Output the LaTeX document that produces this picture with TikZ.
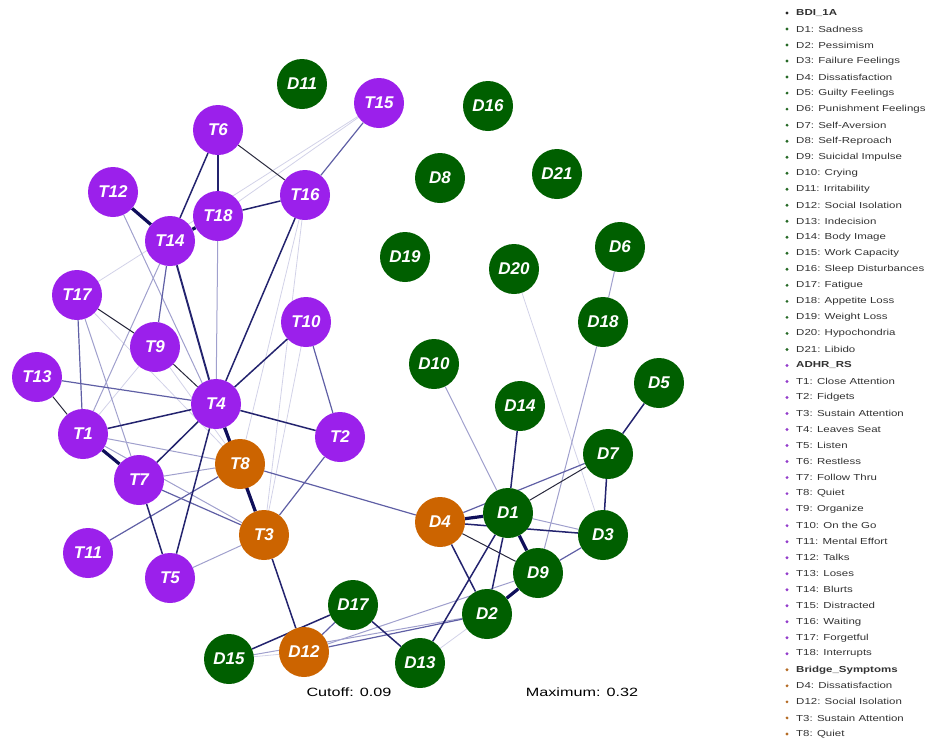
\documentclass[tikz,border=0pt]{standalone}
\usepackage{fontspec}
\setmainfont{Liberation Sans}
\usetikzlibrary{backgrounds}
\definecolor{tpurp}{RGB}{155,32,235}
\definecolor{dgreen}{RGB}{0,95,0}
\definecolor{borange}{RGB}{204,100,0}
\definecolor{c1}{RGB}{210,210,232}
\definecolor{c2}{RGB}{160,160,205}
\definecolor{c3}{RGB}{95,95,165}
\definecolor{c4}{RGB}{35,35,110}
\definecolor{c5}{RGB}{15,15,90}
\definecolor{ck}{RGB}{40,40,60}
\definecolor{legtxt}{RGB}{50,50,50}
\tikzset{
  nd/.style={circle,minimum size=50pt,inner sep=0pt,text=white,font=\fontsize{17}{17}\selectfont\bfseries\itshape},
  tn/.style={nd,fill=tpurp},
  dn/.style={nd,fill=dgreen},
  bn/.style={nd,fill=borange},
  e1/.style={draw=c1,line width=0.8pt},
  e2/.style={draw=c2,line width=1pt},
  e3/.style={draw=c3,line width=1.2pt},
  e4/.style={draw=c4,line width=1.5pt},
  e5/.style={draw=c5,line width=3.2pt},
  ek/.style={draw=ck,line width=1pt},
  leg/.style={anchor=west,inner sep=0pt,text=legtxt,font=\fontsize{8.7}{8.7}\selectfont},
  legh/.style={leg,font=\fontsize{8.7}{8.7}\selectfont\bfseries},
  bul/.style={circle,inner sep=0pt,minimum size=3.2pt},
  captxt/.style={inner sep=0pt,text=black,font=\fontsize{12}{12}\selectfont}
}
\begin{document}
\begin{tikzpicture}[x=1pt,y=-1pt]
\useasboundingbox (0,0) rectangle (929,740);
% nodes
\node[dn] (D11) at (302,84) {D11};
\node[tn] (T15) at (379,103) {T15};
\node[dn] (D16) at (488,106) {D16};
\node[tn] (T6) at (218,130) {T6};
\node[dn] (D8) at (440,178) {D8};
\node[dn] (D21) at (557,174) {D21};
\node[tn] (T12) at (113,192) {T12};
\node[tn] (T16) at (305,195) {T16};
\node[tn] (T18) at (218,216) {T18};
\node[tn] (T14) at (170,241) {T14};
\node[dn] (D6) at (620,247) {D6};
\node[dn] (D19) at (405,257) {D19};
\node[dn] (D20) at (514,269) {D20};
\node[tn] (T17) at (77,295) {T17};
\node[tn] (T10) at (306,322) {T10};
\node[dn] (D18) at (603,322) {D18};
\node[tn] (T9) at (155,347) {T9};
\node[dn] (D10) at (434,364) {D10};
\node[tn] (T13) at (37,377) {T13};
\node[dn] (D5) at (659,383) {D5};
\node[tn] (T4) at (216,404) {T4};
\node[dn] (D14) at (520,406) {D14};
\node[tn] (T1) at (83,434) {T1};
\node[tn] (T2) at (340,437) {T2};
\node[dn] (D7) at (608,454) {D7};
\node[bn] (T8) at (240,464) {T8};
\node[tn] (T7) at (139,480) {T7};
\node[dn] (D1) at (508,513) {D1};
\node[bn] (D4) at (440,522) {D4};
\node[bn] (T3) at (264,535) {T3};
\node[dn] (D3) at (603,535) {D3};
\node[dn] (D9) at (538,573) {D9};
\node[tn] (T11) at (88,553) {T11};
\node[tn] (T5) at (170,578) {T5};
\node[dn] (D2) at (487,614) {D2};
\node[dn] (D17) at (353,605) {D17};
\node[bn] (D12) at (304,652) {D12};
\node[dn] (D15) at (229,659) {D15};
\node[dn] (D13) at (420,663) {D13};
% edges
\begin{scope}[on background layer]
\draw[e1] (T15) -- (T18);
\draw[e1] (T15) -- (T17);
\draw[e1] (T16) -- (T8);
\draw[e1] (T16) -- (T3);
\draw[e1] (T17) -- (T8);
\draw[e1] (T9) -- (T1);
\draw[e1] (T9) -- (T8);
\draw[e1] (T10) -- (T3);
\draw[e1] (D15) -- (D12);
\draw[e1] (D13) -- (D2);
\draw[e1] (D3) -- (D20);
\draw[e2] (T12) -- (T8);
\draw[e2] (T14) -- (T1);
\draw[e2] (T18) -- (T4);
\draw[e2] (T17) -- (T7);
\draw[e2] (T1) -- (T8);
\draw[e2] (T1) -- (T3);
\draw[e2] (T7) -- (T8);
\draw[e2] (T4) -- (T8);
\draw[e2] (T8) -- (T3);
\draw[e2] (T3) -- (T5);
\draw[e2] (D12) -- (D9);
\draw[e2] (D15) -- (D2);
\draw[e2] (D1) -- (D3);
\draw[e2] (D1) -- (D10);
\draw[e2] (D9) -- (D18);
\draw[e2] (D18) -- (D6);
\draw[e3] (T14) -- (T9);
\draw[e3] (T15) -- (T16);
\draw[e3] (T17) -- (T1);
\draw[e3] (T13) -- (T4);
\draw[e3] (T7) -- (T3);
\draw[e3] (T10) -- (T2);
\draw[e3] (T2) -- (T3);
\draw[e3] (T8) -- (D4);
\draw[e3] (T8) -- (T11);
\draw[e3] (D12) -- (D17);
\draw[e3] (D12) -- (D2);
\draw[e3] (D4) -- (D7);
\draw[e3] (D3) -- (D9);
\draw[ek] (T6) -- (T16);
\draw[ek] (T17) -- (T9);
\draw[ek] (T9) -- (T4);
\draw[ek] (T13) -- (T1);
\draw[ek] (D4) -- (D9);
\draw[ek] (D1) -- (D7);
\draw[e4] (T6) -- (T18);
\draw[e4] (T6) -- (T14);
\draw[e4,line width=1.9pt] (T14) -- (T4);
\draw[e4] (T16) -- (T18);
\draw[e4] (T16) -- (T4);
\draw[e4] (T1) -- (T4);
\draw[e4] (T7) -- (T4);
\draw[e4] (T7) -- (T5);
\draw[e4] (T4) -- (T5);
\draw[e4] (T4) -- (T2);
\draw[e4] (T4) -- (T10);
\draw[e4] (T3) -- (D12);
\draw[e4] (D15) -- (D17);
\draw[e4] (D17) -- (D13);
\draw[e4] (D13) -- (D1);
\draw[e4] (D2) -- (D1);
\draw[e4] (D2) -- (D4);
\draw[e4] (D4) -- (D3);
\draw[e4] (D1) -- (D14);
\draw[e4] (D3) -- (D7);
\draw[e4] (D7) -- (D5);
\draw[e5] (T12) -- (T14);
\draw[e5] (T14) -- (T18);
\draw[e5] (T1) -- (T7);
\draw[e5] (T4) -- (T3);
\draw[e5] (D2) -- (D9);
\draw[e5] (D4) -- (D1);
\draw[e5] (D1) -- (D9);
\end{scope}
% captions
\node[captxt] (cut) at (349,692) {\scalebox{1.35}[1]{Cutoff: 0.09}};
\node[captxt] (max) at (582,692) {\scalebox{1.35}[1]{Maximum: 0.32}};
% legend
\foreach \i/\t/\c/\h in {
 0/BDI\_1A/black/1,
 1/D1: Sadness/dgreen/0,
 2/D2: Pessimism/dgreen/0,
 3/D3: Failure Feelings/dgreen/0,
 4/D4: Dissatisfaction/dgreen/0,
 5/D5: Guilty Feelings/dgreen/0,
 6/D6: Punishment Feelings/dgreen/0,
 7/D7: Self-Aversion/dgreen/0,
 8/D8: Self-Reproach/dgreen/0,
 9/D9: Suicidal Impulse/dgreen/0,
 10/D10: Crying/dgreen/0,
 11/D11: Irritability/dgreen/0,
 12/D12: Social Isolation/dgreen/0,
 13/D13: Indecision/dgreen/0,
 14/D14: Body Image/dgreen/0,
 15/D15: Work Capacity/dgreen/0,
 16/D16: Sleep Disturbances/dgreen/0,
 17/D17: Fatigue/dgreen/0,
 18/D18: Appetite Loss/dgreen/0,
 19/D19: Weight Loss/dgreen/0,
 20/D20: Hypochondria/dgreen/0,
 21/D21: Libido/dgreen/0,
 22/ADHR\_RS/tpurp/1,
 23/T1: Close Attention/tpurp/0,
 24/T2: Fidgets/tpurp/0,
 25/T3: Sustain Attention/tpurp/0,
 26/T4: Leaves Seat/tpurp/0,
 27/T5: Listen/tpurp/0,
 28/T6: Restless/tpurp/0,
 29/T7: Follow Thru/tpurp/0,
 30/T8: Quiet/tpurp/0,
 31/T9: Organize/tpurp/0,
 32/T10: On the Go/tpurp/0,
 33/T11: Mental Effort/tpurp/0,
 34/T12: Talks/tpurp/0,
 35/T13: Loses/tpurp/0,
 36/T14: Blurts/tpurp/0,
 37/T15: Distracted/tpurp/0,
 38/T16: Waiting/tpurp/0,
 39/T17: Forgetful/tpurp/0,
 40/T18: Interrupts/tpurp/0,
 41/Bridge\_Symptoms/borange/1,
 42/D4: Dissatisfaction/borange/0,
 43/D12: Social Isolation/borange/0,
 44/T3: Sustain Attention/borange/0,
 45/T8: Quiet/borange/0}{
  \node[bul,fill=\c!70!gray] (b\i) at (787,{13+16.02*\i}) {};
  \ifnum\h=1
    \node[legh] (l\i) at (796,{13+16.02*\i}) {\scalebox{1.32}[1]{\t}};
  \else
    \node[leg] (l\i) at (796,{13+16.02*\i}) {\scalebox{1.32}[1]{\t}};
  \fi
}
\end{tikzpicture}
\end{document}
